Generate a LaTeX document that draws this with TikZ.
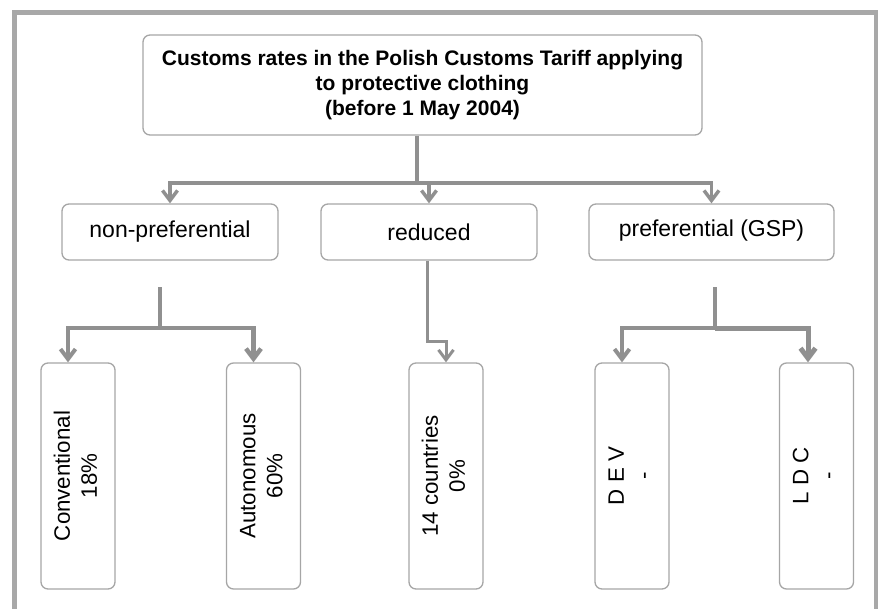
\documentclass[tikz,border=0pt]{standalone}
\usepackage{fontspec}
\setmainfont{Liberation Sans}
\usetikzlibrary{arrows.meta}

\definecolor{framegray}{HTML}{A8A8A8}
\definecolor{linegray}{HTML}{909090}
\definecolor{boxgray}{HTML}{A6A6A6}

\tikzset{
  box/.style={draw=boxgray, line width=1.3pt, rounded corners=7pt, fill=white,
    inner sep=0pt, align=center},
  midbox/.style={box, minimum height=56pt, font=\fontsize{23}{27}\selectfont},
  tallbox/.style={box, minimum width=74pt, minimum height=226pt,
    font=\fontsize{22.3}{27}\selectfont},
  link/.style={draw=linegray, line width=#1, -{Straight Barb[length=10pt,width=15pt]}},
  stem/.style={draw=linegray, line width=#1}
}

\newcommand{\upright}[1]{\rotatebox{90}{\begin{tabular}{@{}c@{}}#1\end{tabular}}}

\begin{document}
\begin{tikzpicture}[x=1pt, y=-1pt]
    \useasboundingbox (0,0) rectangle (880,608);

    % frame, open at the bottom
    \begin{scope}
        \clip (0,0) rectangle (880,608);
        \draw[framegray, line width=4.5pt] (14.5,620) -- (14.5,12.5) -- (876,12.5) -- (876,620);
    \end{scope}

    % title
    \node[box, minimum width=559pt, minimum height=100pt,
          font=\bfseries\fontsize{21}{25}\selectfont] (title) at (422.5,85)
        {Customs rates in the Polish Customs Tariff applying\\to protective clothing\\(before 1 May 2004)};

    % kinds of rates
    \node[midbox, minimum width=216pt] (nonpref) at (170,232) {non-preferential};
    \node[midbox, minimum width=216pt] (reduced) at (429,232) {reduced};
    \node[midbox, minimum width=245pt] (pref) at (711.5,232) {\raisebox{8pt}{preferential (GSP)}};

    % rates
    \node[tallbox] (conv) at (78,476)    {\upright{Conventional\\18\%}};
    \node[tallbox] (auto) at (263.5,476) {\upright{Autonomous\\60\%}};
    \node[tallbox] (ctry) at (446,476)   {\upright{14 countries\\0\%}};
    \node[tallbox] (dev)  at (632,476)   {\upright{D E V\\-}};
    \node[tallbox] (ldc)  at (816.5,476) {\upright{L D C\\-}};

    % title to the three kinds
    \coordinate (hub) at (417,183);
    \draw[stem=3.5pt] (title.south -| hub) -- (hub);
    \draw[link=3.5pt] (hub) -| (nonpref.north);
    \draw[link=3.5pt] (hub) -| (reduced.north);
    \draw[link=3.5pt] (hub) -| (pref.north);

    % non-preferential split
    \coordinate (nptop) at (160,287);
    \coordinate (npfork) at (160,328);
    \draw[stem=4.5pt] (nptop) -- (npfork);
    \draw[link=4pt] (npfork) -| ([xshift=-10pt]conv.north);
    \draw[link=4.5pt] (npfork) -| ([xshift=-10pt]auto.north);

    % reduced
    \draw[link=3pt] ([xshift=-2pt]reduced.south) -- ++(0,81) -| (ctry.north);

    % preferential split
    \coordinate (ptop) at (715,287);
    \coordinate (pfork) at (715,328);
    \draw[stem=4.5pt] (ptop) -- (pfork);
    \draw[link=4pt] (pfork) -| ([xshift=-10pt]dev.north);
    \draw[link=5pt] (pfork) -| ([xshift=-8.5pt]ldc.north);
\end{tikzpicture}
\end{document}
